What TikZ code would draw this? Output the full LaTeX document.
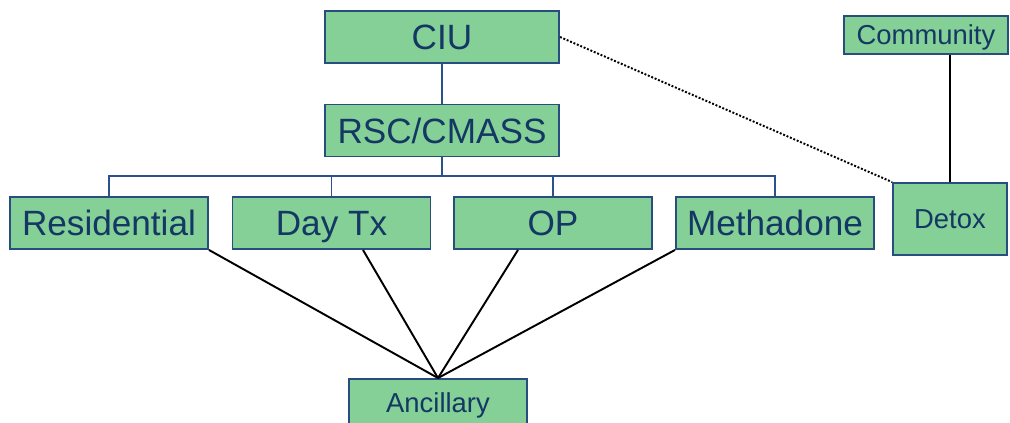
\documentclass[tikz,border=0pt]{standalone}
\usepackage{fontspec}
\setmainfont{Liberation Sans}
\usepackage{xcolor}
\usepackage{tikz}

\definecolor{boxgreen}{RGB}{132,208,150}
\definecolor{boxedge}{RGB}{40,78,128}
\definecolor{boxtext}{RGB}{20,55,100}
\definecolor{busblue}{RGB}{44,80,140}

\begin{document}
\begin{tikzpicture}[
    box/.style={rectangle, draw=boxedge, line width=1.1pt, fill=boxgreen, text=boxtext,
                minimum width=3.96cm, minimum height=1.04cm, inner sep=0pt,
                text height=14.3pt, text depth=0pt,
                font=\fontsize{20}{22}\selectfont},
    smallbox/.style={box, text height=11.2pt, font=\fontsize{15.6}{17}\selectfont},
    bus/.style={draw=busblue, line width=1.1pt},
    link/.style={draw=black, line width=1.1pt},
    dotlink/.style={draw=black, line width=1.1pt, densely dotted}
]
\useasboundingbox (0,0) rectangle (20.2,8.46);

%==============================================================================
% Top of the hierarchy
%==============================================================================
\node[box, minimum width=4.68cm] (ciu) at (8.84, 7.72) {CIU};
\node[box, minimum width=4.68cm] (rsc) at (8.84, 5.85) {RSC/CMASS};

\draw[bus] (ciu.south) -- (rsc.north);

%==============================================================================
% Treatment levels
%==============================================================================
\node[box] (res)  at (2.18, 4.0)  {Residential};
\node[box] (day)  at (6.63, 4.0)  {Day Tx};
\node[box] (op)   at (11.06, 4.0) {OP};
\node[box] (meth) at (15.5, 4.0)  {Methadone};

% Bus from RSC/CMASS down to each level
\foreach \lvl in {res, day, op, meth}
    \draw[bus] (rsc.south) -- ++(0,-0.38) -| (\lvl.north);

%==============================================================================
% Detox and community
%==============================================================================
\node[smallbox, minimum width=3.28cm, minimum height=0.76cm] (comm) at (18.52, 7.76) {Community};
\node[smallbox, minimum width=2.28cm, minimum height=1.44cm] (detox) at (19.0, 4.08) {Detox};

\draw[link] (detox.north) -- (detox.north |- comm.south);
\draw[dotlink] (ciu.east) -- (detox.north west);

%==============================================================================
% Ancillary services
%==============================================================================
\node[smallbox, minimum width=3.56cm, minimum height=0.96cm] (anc) at (8.76, 0.4) {Ancillary};

\draw[link] (res.south east) -- (anc.north);
\draw[link] ([xshift=0.63cm]day.south) -- (anc.north);
\draw[link] ([xshift=-0.7cm]op.south) -- (anc.north);
\draw[link] (meth.south west) -- (anc.north);

\end{tikzpicture}
\end{document}
